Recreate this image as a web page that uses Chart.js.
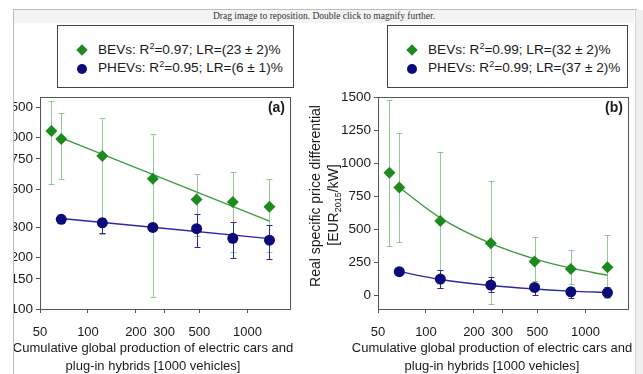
<!DOCTYPE html>
<html>
<head>
<meta charset="utf-8">
<script src="https://cdn.jsdelivr.net/npm/chart.js@4.4.1/dist/chart.umd.min.js"></script>
<style>
html, body { margin: 0; padding: 0; background: #fff; }
body { width: 643px; height: 374px; position: relative; overflow: hidden; font-family: "Liberation Sans", Arial, sans-serif; color: #1a1a1a; }
#viewer { position: absolute; left: 0; top: 0; width: 634px; height: 374px; clip-path: inset(9px 0 0 13px); }
#bar { position: absolute; left: 13px; top: 10px; width: 622px; height: 13px; background: #f4f4f4; font: 9.5px "Liberation Serif", serif; text-align: center; line-height: 13px; color: #333; }
#vline { position: absolute; left: 13px; top: 9px; width: 1px; height: 365px; background: #bdbdbd; }
#hline { position: absolute; left: 13px; top: 9px; width: 624px; height: 1px; background: #bdbdbd; }
#scroll { position: absolute; left: 635px; top: 10px; width: 8px; height: 364px; background: #efefef; border-left: 1px solid #d6d6d6; }
.wrap { position: absolute; }
.legend { position: absolute; top: 25px; height: 61px; border: 1px solid #444; background: #fff; font-size: 13.6px; white-space: nowrap; }
.legend .row { position: absolute; height: 18px; line-height: 18px; }
.legend .mk { position: absolute; }
.legend sup { font-size: 9px; vertical-align: 5px; line-height: 0; }
.xtitle { position: absolute; width: 340px; text-align: center; font-size: 13px; line-height: 18px; }
.ytitle { position: absolute; width: 220px; text-align: center; font-size: 14px; line-height: 16px; transform: rotate(-90deg); transform-origin: 50% 50%; white-space: nowrap; }
.ytitle sub { font-size: 9px; vertical-align: -3px; line-height: 0; }
</style>
</head>
<body>
<div id="viewer">
  <div id="bar">Drag image to reposition. Double click to magnify further.</div>
  <div class="wrap" style="left:-20px; top:75px;"><canvas id="panel_a" width="320" height="299"></canvas></div>
  <div class="wrap" style="left:300px; top:75px;"><canvas id="panel_b" width="334" height="299"></canvas></div>
  <div class="legend" id="legend_a" style="left:57px; width:235px;"></div>
  <div class="legend" id="legend_b" style="left:387px; width:239px;"></div>
  <div class="xtitle" style="left:-17px; top:339px;">Cumulative global production of electric cars and<br>plug-in hybrids [1000 vehicles]</div>
  <div class="xtitle" style="left:322px; top:339px;">Cumulative global production of electric cars and<br>plug-in hybrids [1000 vehicles]</div>
  <div class="ytitle" style="left:205px; top:188px;">Real specific price differential</div>
  <div class="ytitle" style="left:223px; top:197px;">[EUR<sub>2015</sub>/kW]</div>
</div>
<div id="vline"></div>
<div id="hline"></div>
<div id="scroll"></div>

<script>
// ---- data ----
const series_names = ['BEVs', 'PHEVs'];
const x_ticks = [50, 100, 200, 300, 500, 1000];
const bev_production = [59, 68, 123, 255, 480, 810, 1375];
const phev_production = [68, 123, 255, 480, 810, 1375];

// panel (a), log y
const y_ticks_a = [100, 150, 200, 300, 500, 750, 1000, 1500];
const bev_a = [1090, 980, 780, 575, 435, 420, 395];
const bev_a_hi = [1630, 1390, 1290, 1040, 615, 625, 575];
const bev_a_lo = [535, 570, 275, 118, 265, 216, 216];
const phev_a = [333, 318, 299, 294, 258, 252];
const phev_a_hi = [338, 337, 305, 356, 320, 308];
const phev_a_lo = [328, 278, 293, 231, 197, 195];
const fit_x_a = [68, 1375];
const bev_fit_a = [995, 325];
const phev_fit_a = [337, 257];
const r2_a = ['0.97', '0.95'];
const lr_a = ['23 ± 2', '6 ± 1'];

// panel (b), linear y
const y_ticks_b = [0, 250, 500, 750, 1000, 1250, 1500];
const bev_b = [928, 817, 564, 397, 258, 202, 215];
const bev_b_hi = [1474, 1231, 1082, 865, 442, 349, 455];
const bev_b_lo = [379, 404, 60, -63, 110, 90, -20];
const phev_b = [182, 126, 81, 63, 30, 23];
const phev_b_hi = [190, 197, 139, 83, 66, 63];
const phev_b_lo = [175, 58, 25, 8, -17, -13];
const fit_x_b = [68, 123, 255, 480, 810, 1375];
const bev_fit_b = [817, 588, 395, 278, 208, 155];
const phev_fit_b = [182, 123, 77, 51, 35, 25];
const r2_b = ['0.99', '0.99'];
const lr_b = ['32 ± 2', '37 ± 2'];

const green_marker = '#1d8a1d';
const green_line = '#3f9a3f';
const green_err = 'rgba(80,165,80,0.6)';
const navy_marker = '#0b0b7a';
const navy_line = '#2b2ba0';
const navy_err = '#2b2b8c';

Chart.defaults.font.family = '"Liberation Sans", Arial, sans-serif';
Chart.defaults.color = '#1a1a1a';

function pairs(xs, ys) {
    return xs.map((v, i) => ({ x: v, y: ys[i] }));
}

const error_bars = {
    id: 'error_bars',
    beforeDatasetsDraw(chart, args, opts) {
        const ctx = chart.ctx;
        const xs = chart.scales.x;
        const ys = chart.scales.y;
        ctx.save();
        ctx.lineWidth = 1;
        opts.sets.forEach(function (set) {
            ctx.strokeStyle = set.color;
            set.x.forEach(function (xv, i) {
                const px = Math.round(xs.getPixelForValue(xv)) + 0.5;
                const top = Math.round(ys.getPixelForValue(set.hi[i])) + 0.5;
                const bot = Math.round(ys.getPixelForValue(set.lo[i])) + 0.5;
                ctx.beginPath();
                ctx.moveTo(px, top); ctx.lineTo(px, bot);
                ctx.moveTo(px - 3, top); ctx.lineTo(px + 3, top);
                ctx.moveTo(px - 3, bot); ctx.lineTo(px + 3, bot);
                ctx.stroke();
            });
        });
        ctx.restore();
    },
    afterDatasetsDraw(chart, args, opts) {
        const ctx = chart.ctx;
        const a = chart.chartArea;
        ctx.save();
        ctx.strokeStyle = '#555';
        ctx.lineWidth = 1;
        ctx.strokeRect(Math.round(a.left) + 0.5, Math.round(a.top) + 0.5, Math.round(a.right - a.left), Math.round(a.bottom - a.top));
        ctx.font = 'bold 14px "Liberation Sans", Arial, sans-serif';
        ctx.fillStyle = '#1a1a1a';
        ctx.textAlign = 'right';
        ctx.textBaseline = 'middle';
        ctx.fillText(opts.tag, a.right - 5, a.top + 11);
        ctx.restore();
    }
};

function panel_config(p) {
    return {
        type: 'scatter',
        data: {
            datasets: [{
                label: series_names[1],
                data: pairs(phev_production, p.phev),
                pointStyle: 'circle',
                pointRadius: 5.5,
                backgroundColor: navy_marker,
                borderColor: navy_marker,
                borderWidth: 0
            }, {
                label: series_names[0],
                data: pairs(bev_production, p.bev),
                pointStyle: 'rectRot',
                pointRadius: 6,
                backgroundColor: green_marker,
                borderColor: green_marker,
                borderWidth: 0
            }, {
                label: 'PHEV fit',
                data: pairs(p.fit_x, p.phev_fit),
                showLine: true,
                pointRadius: 0,
                borderColor: navy_line,
                borderWidth: 1.4,
                cubicInterpolationMode: 'monotone'
            }, {
                label: 'BEV fit',
                data: pairs(p.fit_x, p.bev_fit),
                showLine: true,
                pointRadius: 0,
                borderColor: green_line,
                borderWidth: 1.4,
                cubicInterpolationMode: 'monotone'
            }]
        },
        options: {
            responsive: false,
            animation: false,
            events: [],
            devicePixelRatio: 1,
            layout: { padding: { top: 22, right: p.pad_right, left: 0, bottom: 0 } },
            plugins: {
                legend: { display: false },
                tooltip: { enabled: false },
                error_bars: {
                    tag: p.tag,
                    sets: [
                        { x: bev_production, hi: p.bev_hi, lo: p.bev_lo, color: green_err },
                        { x: phev_production, hi: p.phev_hi, lo: p.phev_lo, color: navy_err }
                    ]
                }
            },
            scales: {
                x: {
                    type: 'logarithmic',
                    min: 50,
                    max: 1850,
                    border: { display: false },
                    grid: { drawOnChartArea: false, tickLength: 4, color: '#555' },
                    ticks: { font: { size: 13 }, padding: 12, maxRotation: 0, autoSkip: false, callback: (v) => String(v) },
                    afterBuildTicks: (s) => { s.ticks = x_ticks.map((v) => ({ value: v })); },
                    afterFit: (s) => { s.height = 65; }
                },
                y: {
                    type: p.y_type,
                    min: p.y_min,
                    max: p.y_max,
                    border: { display: false },
                    grid: { drawOnChartArea: false, tickLength: 4, color: '#555' },
                    ticks: { font: { size: 13.5 }, padding: 3, autoSkip: false, callback: (v) => String(v) },
                    afterBuildTicks: (s) => { s.ticks = p.y_ticks.map((v) => ({ value: v })); },
                    afterFit: (s) => { s.width = p.y_width; }
                }
            }
        },
        plugins: [error_bars]
    };
}

const PANEL_A = new Chart(document.getElementById('panel_a'), panel_config({
    tag: '(a)', y_type: 'logarithmic', y_min: 100, y_max: 1720, y_ticks: y_ticks_a,
    y_width: 60, pad_right: 10,
    bev: bev_a, bev_hi: bev_a_hi, bev_lo: bev_a_lo,
    phev: phev_a, phev_hi: phev_a_hi, phev_lo: phev_a_lo,
    fit_x: fit_x_a, bev_fit: bev_fit_a, phev_fit: phev_fit_a
}));

const PANEL_B = new Chart(document.getElementById('panel_b'), panel_config({
    tag: '(b)', y_type: 'linear', y_min: -100, y_max: 1500, y_ticks: y_ticks_b,
    y_width: 78, pad_right: 4,
    bev: bev_b, bev_hi: bev_b_hi, bev_lo: bev_b_lo,
    phev: phev_b, phev_hi: phev_b_hi, phev_lo: phev_b_lo,
    fit_x: fit_x_b, bev_fit: bev_fit_b, phev_fit: phev_fit_b
}));

// legends above each panel
function fill_legend(el, r2, lr) {
    const markers = [
        '<span class="mk" style="left:20px; top:20px; width:8px; height:8px; background:' + green_marker + '; transform:rotate(45deg);"></span>',
        '<span class="mk" style="left:19px; top:38px; width:10px; height:10px; border-radius:50%; background:' + navy_marker + ';"></span>'
    ];
    let html = markers.join('');
    series_names.forEach(function (name, i) {
        html += '<div class="row" style="left:40px; top:' + (15 + i * 18) + 'px;">' +
            name + ': R<sup>2</sup>=' + r2[i] + '; LR=(' + lr[i] + ')%</div>';
    });
    el.innerHTML = html;
}
fill_legend(document.getElementById('legend_a'), r2_a, lr_a);
fill_legend(document.getElementById('legend_b'), r2_b, lr_b);
</script>
</body>
</html>
